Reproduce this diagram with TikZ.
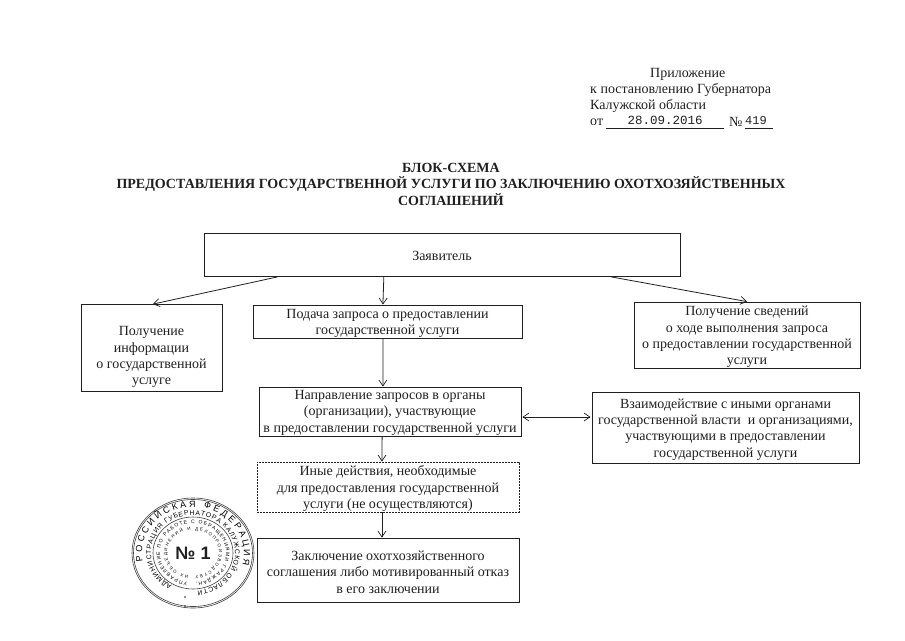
\documentclass[tikz,border=0pt]{standalone}
\usepackage{fontspec}
\setmainfont{Liberation Serif}
\setsansfont{Liberation Sans}
\setmonofont{Liberation Mono}
\usetikzlibrary{calc,arrows.meta,decorations.text}
\definecolor{ink}{gray}{0.12}
\newcommand\lowertext[1]{\rule{0pt}{\dimexpr 9.5pt+#1pt+#1pt\relax}}
\tikzset{
  every node/.style={text=ink,font=\fontsize{14}{16.4}\selectfont},
  boxnode/.style={draw=ink,line width=0.8pt,align=center,inner sep=0pt,anchor=center},
  dashbox/.style={boxnode,dash pattern=on 1.6pt off 1.4pt},
  arrowline/.style={draw=ink,line width=0.8pt,-{Straight Barb[length=6pt,width=8pt,line width=0.7pt]}},
  twoway/.style={draw=ink,line width=0.8pt,{Straight Barb[length=6pt,width=8pt,line width=0.7pt]}-{Straight Barb[length=6pt,width=8pt,line width=0.7pt]}},
  plain/.style={anchor=west,inner sep=0pt},
  rule/.style={draw=ink,line width=0.7pt},
  stampline/.style={draw=ink!85,line width=0.6pt},
  ringtext/.style={decorate,decoration={text along path,text align=fit to path,text={#1}}},
}
\begin{document}
\begin{tikzpicture}[x=1pt,y=-1pt]
\useasboundingbox (0,0) rectangle (905,640);
% header
\node[plain] (h1) at (650,74) {Приложение};
\node[plain] (h2) at (590,90) {к постановлению Губернатора};
\node[plain] (h3) at (590,106) {Калужской области};
\node[plain] (h4) at (590,122) {от};
\node[inner sep=0pt,font=\ttfamily\fontsize{12.5}{14}\selectfont] (dt) at (665,120.5) {28.09.2016};
\node[plain] (h5) at (729,122) {№};
\node[plain,font=\ttfamily\fontsize{12}{14}\selectfont] (nm) at (745,121) {419};
\coordinate (u1a) at (606,128); \coordinate (u1b) at (724,128);
\coordinate (u2a) at (745,128); \coordinate (u2b) at (773,128);
\draw[rule] (u1a) -- (u1b);
\draw[rule] (u2a) -- (u2b);
% title
\node[align=center,inner sep=0pt,font=\bfseries\fontsize{14}{16.5}\selectfont] (title) at (451,184)
 {БЛОК-СХЕМА\\ПРЕДОСТАВЛЕНИЯ ГОСУДАРСТВЕННОЙ УСЛУГИ ПО ЗАКЛЮЧЕНИЮ ОХОТХОЗЯЙСТВЕННЫХ\\СОГЛАШЕНИЙ};
% boxes
\node[boxnode,minimum width=476pt,minimum height=43pt] (z) at (442,255) {\lowertext{1}Заявитель};
\node[boxnode,minimum width=141pt,minimum height=87pt] (inf) at (151.5,348) {\lowertext{9}Получение\\информации\\о государственной\\услуге};
\node[boxnode,minimum width=269pt,minimum height=33pt] (pod) at (387.5,321.5) {\lowertext{2}Подача запроса о предоставлении\\государственной услуги};
\node[boxnode,minimum width=226pt,minimum height=66pt] (sv) at (747,335) {\lowertext{2}Получение сведений\\о ходе выполнения запроса\\о предоставлении государственной\\услуги};
\node[boxnode,minimum width=262pt,minimum height=49pt] (nap) at (390,411.5) {\lowertext{1}Направление запросов в органы\\(организации), участвующие\\в предоставлении государственной услуги};
\node[boxnode,minimum width=267pt,minimum height=71pt] (vz) at (725.5,427.5) {\lowertext{2}Взаимодействие с иными органами\\государственной власти\ \ и организациями,\\участвующими в предоставлении\\государственной услуги};
\node[dashbox,minimum width=262pt,minimum height=50pt] (in) at (388,487) {\lowertext{2}Иные действия, необходимые\\для предоставления государственной\\услуги (не осуществляются)};
\node[boxnode,minimum width=262pt,minimum height=64pt] (zk) at (388,570) {\lowertext{2}Заключение охотхозяйственного\\соглашения либо мотивированный отказ\\в его заключении};
% connectors
\draw[arrowline] ($(z.south west)!0.155!(z.south east)$) -- ($(inf.north west)!0.51!(inf.north east)$);
\draw[arrowline] ($(z.south west)!0.855!(z.south east)$) -- (sv.north);
\draw[arrowline] ($(z.south west)!0.378!(z.south east)$) -- ($(pod.north west)!0.483!(pod.north east)$);
\draw[arrowline] ($(pod.south west)!0.483!(pod.south east)$) -- ($(nap.north west)!0.473!(nap.north east)$);
\draw[arrowline] ($(nap.south west)!0.47!(nap.south east)$) -- ($(in.north west)!0.477!(in.north east)$);
\draw[arrowline] ($(in.south west)!0.477!(in.south east)$) -- ($(zk.north west)!0.477!(zk.north east)$);
\draw[twoway] ($(nap.east)+(1,5.5)$) -- ($(vz.west)+(-1,-10.5)$);
% stamp
\coordinate (st) at (193,553);
\draw[stampline] (st) ellipse [x radius=61,y radius=55];
\draw[stampline] (st) ellipse [x radius=59.5,y radius=53.5];
\draw[stampline] (st) ellipse [x radius=40,y radius=36];
\path[ringtext={|\fontsize{9}{9}\selectfont\sffamily|РОССИЙСКАЯ ФЕДЕРАЦИЯ}]
  (st) ++(-190:51 and 46) arc [start angle=-190,end angle=15,x radius=51,y radius=46];
\path[ringtext={|\fontsize{6.8}{7}\selectfont\sffamily|АДМИНИСТРАЦИЯ ГУБЕРНАТОРА КАЛУЖСКОЙ ОБЛАСТИ}]
  (st) ++(-240:42 and 38) arc [start angle=-240,end angle=84,x radius=42,y radius=38];
\path[ringtext={|\fontsize{5}{5}\selectfont\sffamily|УПРАВЛЕНИЕ ПО РАБОТЕ С ОБРАЩЕНИЯМИ ГРАЖДАН,}]
  (st) ++(-260:33 and 29.5) arc [start angle=-260,end angle=85,x radius=33,y radius=29.5];
\path[ringtext={|\fontsize{4.4}{5}\selectfont\sffamily|ИХ ОБЪЕДИНЕНИЙ И ДЕЛОПРОИЗВОДСТВУ}]
  (st) ++(-260:26 and 23) arc [start angle=-260,end angle=85,x radius=26,y radius=23];
\fill[ink] ($(st)+(-8,44)$) circle (0.9);
\fill[ink] ($(st)+(-8,53)$) circle (0.9);
\node[font=\sffamily\bfseries\fontsize{18}{18}\selectfont,inner sep=0pt] (no) at (st) {№ 1};
\end{tikzpicture}
\end{document}
